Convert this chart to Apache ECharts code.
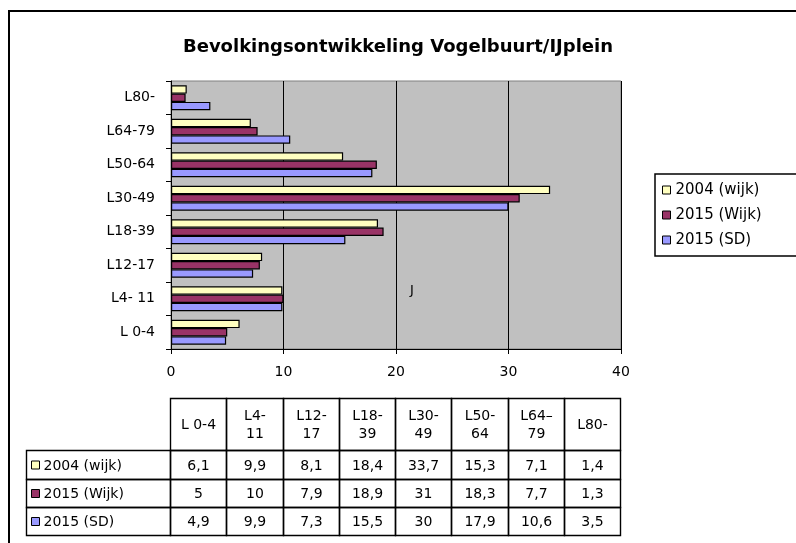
<!DOCTYPE html>
<html>
<head>
<meta charset="utf-8">
<script src="https://cdn.jsdelivr.net/npm/echarts@6/dist/echarts.min.js"></script>
<style>html,body{margin:0;padding:0;background:#fff;}#c{width:796px;height:543px;}</style>
</head>
<body>
<div id="c"></div>
<script>
// ---- data ----
const categories = ['L 0-4', 'L4- 11', 'L12-17', 'L18-39', 'L30-49', 'L50-64', 'L64-79', 'L80-'];
const tableHeads = ['L 0-4', 'L4-\n11', 'L12-\n17', 'L18-\n39', 'L30-\n49', 'L50-\n64', 'L64–\n79', 'L80-'];
const seriesNames = ['2004 (wijk)', '2015 (Wijk)', '2015 (SD)'];
const wijk2004 = [6.1, 9.9, 8.1, 18.4, 33.7, 15.3, 7.1, 1.4];
const wijk2015 = [5, 10, 7.9, 18.9, 31, 18.3, 7.7, 1.3];
const sd2015 = [4.9, 9.9, 7.3, 15.5, 30, 17.9, 10.6, 3.5];
const xTicks = [0, 10, 20, 30, 40];
const titleText = 'Bevolkingsontwikkeling Vogelbuurt/IJplein';

// ---- styling ----
const colors = ['#FFFFC0', '#993366', '#9999FF'];
const FONT = 'DejaVu Sans';
const seriesValues = [wijk2004, wijk2015, sd2015];

// table cells built from data
const cells = [];
tableHeads.forEach((t, i) => cells.push({kind: 'head', col: i, row: 0, text: t}));
seriesNames.forEach((n, r) => {
  cells.push({kind: 'label', col: -1, row: r + 1, text: n, color: colors[r]});
  seriesValues[r].forEach((v, i) => cells.push({kind: 'val', col: i, row: r + 1, text: String(v).replace('.', ',')}));
});
const LABEL_MIN = -2.56;
const ROW_EDGES = [0, 52, 80.5, 109, 137];

function renderCell(params, api) {
  const c = cells[params.dataIndex];
  const xa = c.col < 0 ? LABEL_MIN : c.col;
  const xb = c.col < 0 ? 0 : c.col + 1;
  const p0 = api.coord([xa, ROW_EDGES[c.row]]);
  const p1 = api.coord([xb, ROW_EDGES[c.row + 1]]);
  const x0 = Math.round(p0[0]) + 0.5, y0 = Math.round(p0[1]) + 0.5;
  const x1 = Math.round(p1[0]) + 0.5, y1 = Math.round(p1[1]) + 0.5;
  const children = [{
    type: 'rect',
    shape: {x: x0, y: y0, width: x1 - x0, height: y1 - y0},
    style: {fill: 'none', stroke: '#000', lineWidth: 1.4}
  }];
  const cy = (y0 + y1) / 2;
  if (c.kind === 'label') {
    children.push({type: 'rect', shape: {x: x0 + 5, y: cy - 4, width: 8, height: 8},
      style: {fill: c.color, stroke: '#000', lineWidth: 1}});
    children.push({type: 'text', style: {x: x0 + 17, y: cy + 1, text: c.text, fill: '#000',
      font: '14px "' + FONT + '"', textAlign: 'left', textVerticalAlign: 'middle'}});
  } else {
    children.push({type: 'text', style: {x: (x0 + x1) / 2, y: cy + 1, text: c.text, fill: '#000',
      font: '14px "' + FONT + '"', textAlign: 'center', textVerticalAlign: 'middle', lineHeight: 18}});
  }
  return {type: 'group', children};
}

const chart = echarts.init(document.getElementById('c'), null, {renderer: 'canvas'});
chart.setOption({
  animation: false,
  backgroundColor: '#fff',
  title: {
    text: titleText, left: 'center', top: 33,
    textStyle: {fontFamily: FONT, fontSize: 18, fontWeight: 'bold', color: '#000'}
  },
  legend: {
    orient: 'vertical', left: 655, top: 174,
    data: seriesNames,
    itemWidth: 8, itemHeight: 8, itemGap: 9, icon: 'rect',
    padding: [8, 70, 8, 7],
    borderColor: '#000', borderWidth: 1.5,
    itemStyle: {borderColor: '#000', borderWidth: 1},
    textStyle: {fontFamily: FONT, fontSize: 15, color: '#000', lineHeight: 16}
  },
  grid: [
    {left: 171, right: 175, top: 81, bottom: 194, show: true, backgroundColor: '#C0C0C0', borderColor: '#808080', borderWidth: 1},
    {left: 26, right: 176, top: 398, bottom: 8}
  ],
  xAxis: [
    {
      type: 'value', gridIndex: 0, min: xTicks[0], max: xTicks[xTicks.length - 1], interval: 10,
      axisLine: {show: true, lineStyle: {color: '#000', width: 1}},
      axisTick: {show: true, length: 5, lineStyle: {color: '#000'}},
      axisLabel: {color: '#000', fontFamily: FONT, fontSize: 14, margin: 16},
      splitLine: {show: true, lineStyle: {color: '#000', width: 1}}
    },
    {type: 'value', gridIndex: 1, min: LABEL_MIN, max: 8, show: false}
  ],
  yAxis: [
    {
      type: 'category', gridIndex: 0, data: categories,
      axisLine: {show: true, lineStyle: {color: '#000', width: 1}},
      axisTick: {show: true, length: 5, lineStyle: {color: '#000'}},
      axisLabel: {color: '#000', fontFamily: FONT, fontSize: 14, margin: 16},
      splitLine: {show: false}
    },
    {type: 'value', gridIndex: 1, min: 0, max: 137, inverse: true, show: false}
  ],
  series: [
    ...seriesNames.map((n, i) => ({
      name: n, type: 'bar', xAxisIndex: 0, yAxisIndex: 0,
      data: seriesValues[i],
      barGap: '0%', barCategoryGap: '26%',
      itemStyle: {color: colors[i], borderColor: '#000', borderWidth: 1.2}
    })),
    {
      type: 'custom', xAxisIndex: 1, yAxisIndex: 1, clip: false, silent: true,
      data: cells.map(c => [c.col, c.row]),
      encode: {x: 0, y: 1},
      renderItem: renderCell
    }
  ],
  graphic: [
    {type: 'rect', shape: {x: 9, y: 11, width: 900, height: 900}, style: {fill: 'none', stroke: '#000', lineWidth: 2}, silent: true},
    {type: 'text', left: 410, top: 284, style: {text: 'J', fill: '#000', font: '13px "' + FONT + '"'}, silent: true}
  ]
});
</script>
</body>
</html>
